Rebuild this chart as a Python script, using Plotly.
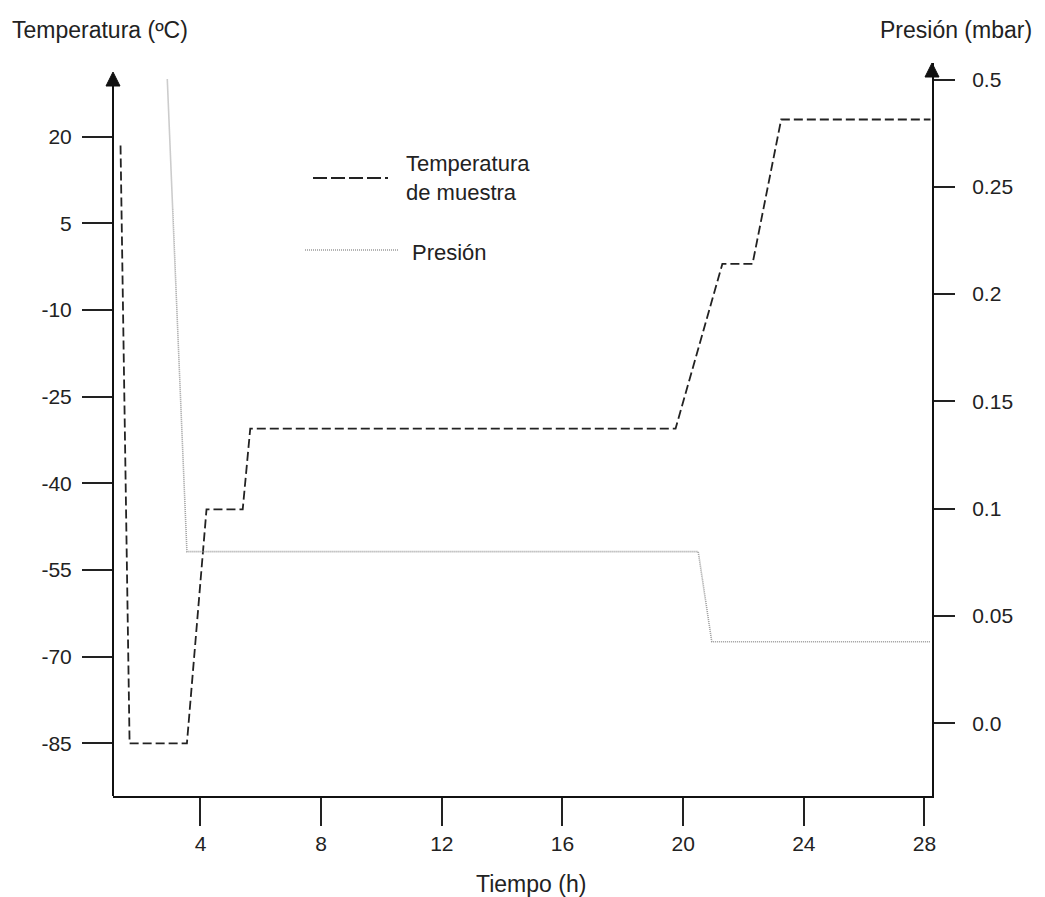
import plotly.graph_objects as go

# --- data -------------------------------------------------------------
# sample temperature (°C) against time (h)
time_temp = [1.35, 1.65, 3.55, 4.2, 5.4, 5.65, 19.75, 21.3, 22.3, 23.25, 28.2]
temperature = [18.5, -85, -85, -44.5, -44.5, -30.5, -30.5, -2, -2, 23, 23]

# chamber pressure (mbar) against time (h)
time_pres = [2.9, 3.55, 20.5, 20.95, 28.2]
pressure = [0.5, 0.08, 0.08, 0.038, 0.038]

# axis ticks
x_ticks = [4, 8, 12, 16, 20, 24, 28]
temp_ticks = [20, 5, -10, -25, -40, -55, -70, -85]
temp_tick_text = ["20", "5", "-10", "-25", "-40", "-55", "-70", "-85"]
pres_ticks = [0.0, 0.05, 0.1, 0.15, 0.2, 0.25, 0.5]
pres_tick_text = ["0.0", "0.05", "0.1", "0.15", "0.2", "0.25", "0.5"]


def pres_scale(p):
    """Pressure axis is linear up to 0.25 mbar, compressed above (0.25-0.5 in one step)."""
    return p if p <= 0.25 else 0.25 + (p - 0.25) * 0.2


# --- layout geometry (pixels) ------------------------------------------
W, H = 1045, 897
L, R, T, B = 113, 932, 63, 796   # plot-area edges
PW, PH = R - L, B - T


def px(x):
    return (x - L) / PW


def py(y):
    return (B - y) / PH


FONT = "Liberation Sans, Arial, sans-serif"
INK = "#222222"
GREY = "#9a9a9a"

fig = go.Figure()

fig.add_trace(go.Scatter(
    x=time_temp, y=temperature, mode="lines", name="Temperatura de muestra",
    line=dict(color=INK, width=1.8, dash="9px,4px"), yaxis="y",
    showlegend=False,
))
fig.add_trace(go.Scatter(
    x=time_pres, y=[pres_scale(p) for p in pressure], mode="lines", name="Presión",
    line=dict(color=GREY, width=1.6, dash="1px,1px"), yaxis="y2",
    showlegend=False,
))

tick_font = dict(family=FONT, size=21, color=INK)

fig.update_layout(
    width=W, height=H,
    margin=dict(l=L, r=W - R, t=T, b=H - B, pad=0),
    paper_bgcolor="white", plot_bgcolor="white",
    font=dict(family=FONT, color=INK),
    xaxis=dict(
        range=[1.1, 28.25], tickmode="array", tickvals=x_ticks,
        ticks="outside", ticklen=28, tickwidth=1.5, tickcolor=INK,
        showline=True, linewidth=2, linecolor="#111111",
        showgrid=False, zeroline=False, tickfont=tick_font,
        ticklabelstandoff=0,
    ),
    yaxis=dict(
        range=[-94.11, 32.78], tickmode="array", tickvals=temp_ticks,
        ticktext=temp_tick_text,
        ticks="outside", ticklen=30, tickwidth=1.5, tickcolor=INK,
        showline=False, showgrid=False, zeroline=False, tickfont=tick_font,
        ticklabelstandoff=6,
    ),
    yaxis2=dict(
        range=[-0.0339, 0.3077], overlaying="y", side="right",
        tickmode="array", tickvals=[pres_scale(v) for v in pres_ticks],
        ticktext=pres_tick_text,
        ticks="outside", ticklen=21, tickwidth=1.5, tickcolor=INK,
        showline=True, linewidth=2, linecolor="#111111",
        showgrid=False, zeroline=False, tickfont=tick_font,
        ticklabelstandoff=13,
    ),
)

shapes = [
    # left axis line, ending at its arrow
    dict(type="line", xref="paper", yref="paper", x0=0, x1=0, y0=0, y1=py(80),
         line=dict(color="#111111", width=2)),
    # arrow heads
    dict(type="path", xref="paper", yref="paper",
         path=f"M{px(113)},{py(72)} L{px(106)},{py(86)} L{px(120)},{py(86)} Z",
         fillcolor="#111111", line=dict(color="#111111", width=1)),
    dict(type="path", xref="paper", yref="paper",
         path=f"M{px(932)},{py(63)} L{px(925)},{py(77)} L{px(939)},{py(77)} Z",
         fillcolor="#111111", line=dict(color="#111111", width=1)),
    # legend samples
    dict(type="line", xref="paper", yref="paper",
         x0=px(313), x1=px(388), y0=py(178), y1=py(178),
         line=dict(color=INK, width=1.8, dash="14px,4px")),
    dict(type="line", xref="paper", yref="paper",
         x0=px(305), x1=px(399), y0=py(250), y1=py(250),
         line=dict(color=GREY, width=1.6, dash="1px,1px")),
]

title_font = dict(family=FONT, size=23, color=INK)
legend_font = dict(family=FONT, size=22, color=INK)

annotations = [
    dict(text="Temperatura (ºC)", xref="paper", yref="paper", x=px(10), y=py(30),
         xanchor="left", yanchor="middle", showarrow=False, font=title_font),
    dict(text="Presión (mbar)", xref="paper", yref="paper", x=px(1034), y=py(30),
         xanchor="right", yanchor="middle", showarrow=False, font=title_font),
    dict(text="Tiempo (h)", xref="paper", yref="paper", x=px(531), y=py(884),
         xanchor="center", yanchor="middle", showarrow=False, font=title_font),
    dict(text="Temperatura<br>de muestra", xref="paper", yref="paper",
         x=px(404), y=py(178), xanchor="left", yanchor="middle", align="left",
         showarrow=False, font=legend_font),
    dict(text="Presión", xref="paper", yref="paper", x=px(410), y=py(252),
         xanchor="left", yanchor="middle", showarrow=False, font=legend_font),
]

fig.update_layout(shapes=shapes, annotations=annotations)

fig.write_html("out.html")
